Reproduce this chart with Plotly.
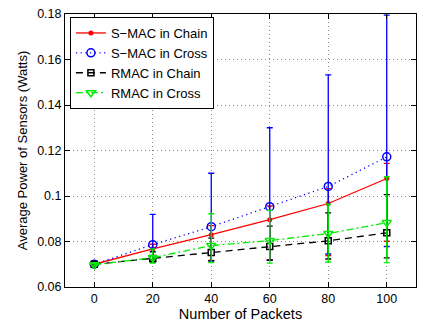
import plotly.graph_objects as go

packets = [0, 20, 40, 60, 80, 100]

smac_chain = [0.0700, 0.0768, 0.0830, 0.0896, 0.0967, 0.1077]
smac_chain_up = [0.0005, 0.0020, 0.0040, 0.0060, 0.0065, 0.0066]
smac_chain_dn = [0.0005, 0.0050, 0.0113, 0.0176, 0.0229, 0.0276]

smac_cross = [0.0700, 0.0786, 0.0865, 0.0953, 0.1042, 0.1172]
smac_cross_up = [0.0005, 0.0133, 0.0235, 0.0347, 0.0490, 0.0623]
smac_cross_dn = [0.0005, 0.0066, 0.0150, 0.0236, 0.0297, 0.0394]

rmac_chain = [0.0700, 0.0725, 0.0752, 0.0778, 0.0803, 0.0838]
rmac_chain_up = [0.0005, 0.0030, 0.0063, 0.0090, 0.0123, 0.0168]
rmac_chain_dn = [0.0005, 0.0015, 0.0037, 0.0060, 0.0080, 0.0110]

rmac_cross = [0.0698, 0.0729, 0.0782, 0.0804, 0.0835, 0.0883]
rmac_cross_up = [0.0005, 0.0039, 0.0140, 0.0133, 0.0129, 0.0202]
rmac_cross_dn = [0.0005, 0.0024, 0.0075, 0.0099, 0.0125, 0.0176]

y_ticks = [0.06, 0.08, 0.10, 0.12, 0.14, 0.16, 0.18]
y_tick_text = ["0.06", "0.08", "0.1", "0.12", "0.14", "0.16", "0.18"]
x_ticks = [0, 20, 40, 60, 80, 100]

series = [
    ("S\u2212MAC in Chain", smac_chain, smac_chain_up, smac_chain_dn, "#ff0000", "solid",
     dict(symbol="circle", size=5, color="#ff0000")),
    ("S\u2212MAC in Cross", smac_cross, smac_cross_up, smac_cross_dn, "#0000ff", "1.2px,3.5px",
     dict(symbol="circle-open", size=8, color="#0000ff", line=dict(width=1.5, color="#0000ff"))),
    ("RMAC in Chain", rmac_chain, rmac_chain_up, rmac_chain_dn, "#000000", "7px,5px",
     dict(symbol="square-open", size=6, color="#000000", line=dict(width=1.5, color="#000000"))),
    ("RMAC in Cross", rmac_cross, rmac_cross_up, rmac_cross_dn, "#00ee00", "7px,3px,2px,3px",
     dict(symbol="triangle-down-open", size=8, color="#00ee00", line=dict(width=1.5, color="#00ee00"))),
]

fig = go.Figure()
for name, y, up, dn, col, dash, mk in series:
    fig.add_trace(go.Scatter(
        x=packets, y=y, name=name, mode="lines+markers",
        line=dict(color=col, width=1.3, dash=dash),
        marker=mk,
        error_y=dict(type="data", symmetric=False, array=up, arrayminus=dn,
                     color=col, thickness=1.3, width=3),
    ))

font = "Liberation Sans, Arial, Helvetica, sans-serif"
axis_common = dict(
    showline=True, linecolor="black", linewidth=1, mirror="allticks",
    ticks="inside", ticklen=5, tickcolor="black",
    showgrid=True, gridcolor="#8a8a8a", griddash="1px,3px", gridwidth=1,
    zeroline=False, tickfont=dict(size=12.5, color="black", family=font),
)

fig.update_layout(
    width=424, height=324,
    margin=dict(l=65, r=7, t=10, b=37),
    paper_bgcolor="white", plot_bgcolor="white",
    font=dict(family=font, color="black"),
    showlegend=True,
    legend=dict(x=0.014, y=0.989, xanchor="left", yanchor="top",
                bgcolor="white", bordercolor="black", borderwidth=1,
                font=dict(size=13, family=font), tracegroupgap=0,
                itemwidth=30),
    xaxis=dict(range=[-10, 110], tickvals=x_ticks,
               title=dict(text="Number of Packets", font=dict(size=14.5), standoff=1),
               **axis_common),
    yaxis=dict(range=[0.06, 0.18], tickvals=y_ticks, ticktext=y_tick_text,
               title=dict(text="Average Power of Sensors (Watts)", font=dict(size=13), standoff=6),
               **axis_common),
)

fig.write_html("out.html", config={"displayModeBar": False},
               post_script="document.body.style.margin='0';document.body.style.padding='0';")
